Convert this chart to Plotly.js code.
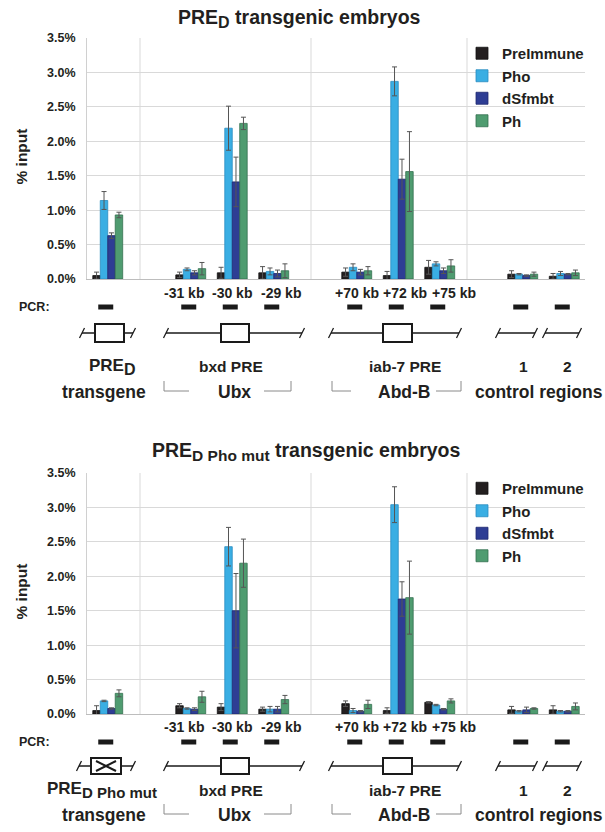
<!DOCTYPE html>
<html>
<head>
<meta charset="utf-8">
<script src="https://cdn.plot.ly/plotly-3.0.1.min.js"></script>
<style>html,body{margin:0;padding:0;background:#fff;}#chart{width:605px;height:832px;}</style>
</head>
<body>
<div id="chart"></div>
<script>
// ---------- DATA ----------
const categories = ["PRE_D", "-31 kb", "-30 kb", "-29 kb", "+70 kb", "+72 kb", "+75 kb", "ctrl 1", "ctrl 2"];
const kbLabels = ["-31 kb", "-30 kb", "-29 kb", "+70 kb", "+72 kb", "+75 kb"];
const seriesNames = ["PreImmune", "Pho", "dSfmbt", "Ph"];
const yTickVals = [0, 0.5, 1.0, 1.5, 2.0, 2.5, 3.0, 3.5];

// Panel 1: PRE_D transgenic embryos (% input)
const preImmune1 = [0.05, 0.06, 0.09, 0.09, 0.10, 0.05, 0.17, 0.07, 0.04];
const preImmuneErr1 = [0.05, 0.04, 0.08, 0.09, 0.06, 0.06, 0.10, 0.05, 0.04];
const pho1 = [1.14, 0.14, 2.19, 0.11, 0.17, 2.87, 0.22, 0.07, 0.08];
const phoErr1 = [0.13, 0.02, 0.32, 0.05, 0.05, 0.21, 0.03, 0.01, 0.03];
const dsfmbt1 = [0.63, 0.09, 1.41, 0.08, 0.10, 1.45, 0.12, 0.05, 0.07];
const dsfmbtErr1 = [0.04, 0.03, 0.36, 0.05, 0.04, 0.29, 0.04, 0.01, 0.01];
const ph1 = [0.93, 0.15, 2.26, 0.12, 0.12, 1.56, 0.19, 0.07, 0.09];
const phErr1 = [0.04, 0.09, 0.09, 0.10, 0.06, 0.58, 0.09, 0.03, 0.04];

// Panel 2: PRE_D Pho mut transgenic embryos (% input)
const preImmune2 = [0.05, 0.12, 0.10, 0.07, 0.15, 0.05, 0.17, 0.06, 0.06];
const preImmuneErr2 = [0.07, 0.03, 0.05, 0.03, 0.04, 0.04, 0.01, 0.05, 0.06];
const pho2 = [0.19, 0.08, 2.43, 0.07, 0.05, 3.04, 0.13, 0.04, 0.04];
const phoErr2 = [0.01, 0.01, 0.28, 0.04, 0.03, 0.26, 0.01, 0.01, 0.01];
const dsfmbt2 = [0.08, 0.07, 1.50, 0.07, 0.04, 1.67, 0.07, 0.06, 0.04];
const dsfmbtErr2 = [0.01, 0.02, 0.54, 0.04, 0.01, 0.25, 0.01, 0.04, 0.01];
const ph2 = [0.30, 0.25, 2.19, 0.21, 0.14, 1.69, 0.19, 0.08, 0.11];
const phErr2 = [0.05, 0.08, 0.35, 0.06, 0.06, 0.53, 0.03, 0.01, 0.05];

// ---------- STYLE / LAYOUT ----------
const W = 605, H = 832;
const px = x => x / W;
const py = y => 1 - y / H;
const FONT = "Liberation Sans, Arial, Helvetica, sans-serif";
const TXT = "#231f20";
const colors = ["#231f20", "#3aaee3", "#2e3d94", "#4f9c70"];
const edges = ["#111111", "#2a8cc0", "#1f2a6e", "#33704f"];

// axis category order including spacer slots between regions
const gapNames = ["gap a", "gap b", "gap c"];
const categoryOrder = [categories[0], gapNames[0], categories[1], categories[2], categories[3], gapNames[1],
  categories[4], categories[5], categories[6], gapNames[2], categories[7], categories[8]];

const plotL = 87, plotR = 585;
const panels = [
  {top: 38, bottom: 279, xa: "x", ya: "y", legend: "legend", vals: [preImmune1, pho1, dsfmbt1, ph1],
   errs: [preImmuneErr1, phoErr1, dsfmbtErr1, phErr1]},
  {top: 473, bottom: 714, xa: "x2", ya: "y2", legend: "legend2", vals: [preImmune2, pho2, dsfmbt2, ph2],
   errs: [preImmuneErr2, phoErr2, dsfmbtErr2, phErr2]}
];

const traces = [];
panels.forEach((p, pi) => {
  seriesNames.forEach((nm, si) => {
    traces.push({
      type: "bar", name: nm, x: categories, y: p.vals[si],
      xaxis: p.xa, yaxis: p.ya, legend: p.legend, showlegend: true,
      marker: {color: colors[si], line: {color: edges[si], width: 0.8}},
      error_y: {type: "data", array: p.errs[si], visible: true, color: "#555555", thickness: 1, width: 2.5},
      hoverinfo: "x+y+name"
    });
  });
});

function xAxis(anchor) {
  return {
    domain: [px(plotL), px(plotR)], anchor: anchor, type: "category",
    categoryorder: "array", categoryarray: categoryOrder, range: [-0.5, 11.5],
    showticklabels: false, ticks: "", showgrid: false, zeroline: false,
    showline: true, linecolor: "#bdbdbd", linewidth: 1,
    fixedrange: true
  };
}
function yAxis(anchor, top, bottom) {
  return {
    domain: [py(bottom), py(top)], anchor: anchor, range: [0, 3.5],
    tickmode: "array", tickvals: yTickVals, ticktext: yTickVals.map(v => v.toFixed(1) + "%"),
    ticks: "", ticklabelstandoff: 8, showgrid: true, gridcolor: "#d9d9d9", gridwidth: 1,
    zeroline: false, showline: true, linecolor: "#d0d0d0", linewidth: 1,
    tickfont: {family: FONT, size: 12.5, color: TXT, weight: "bold"},
    fixedrange: true
  };
}

const shapes = [];
const annotations = [];
function ln(x0, y0, x1, y1, color, width) {
  shapes.push({type: "line", xref: "paper", yref: "paper", x0: px(x0), y0: py(y0), x1: px(x1), y1: py(y1),
    line: {color: color, width: width}});
}
function rect(x0, y0, x1, y1, fill, lineColor, lw) {
  shapes.push({type: "rect", xref: "paper", yref: "paper", x0: px(x0), y0: py(y0), x1: px(x1), y1: py(y1),
    fillcolor: fill, line: {color: lineColor, width: lw}});
}
function txt(x, y, text, size, opts) {
  annotations.push(Object.assign({xref: "paper", yref: "paper", x: px(x), y: py(y), text: text, showarrow: false,
    xanchor: "center", yanchor: "middle", font: {family: FONT, size: size, color: TXT, weight: "bold"}}, opts || {}));
}
const sub = (t, size) => "<sub><span style='font-size:" + size + "px'>" + t + "</span></sub>";

const catW = (plotR - plotL) / categoryOrder.length;
const catCenter = name => plotL + (categoryOrder.indexOf(name) + 0.5) * catW;
const separators = [140, 311, 467];
// hand-placed kb label centres (they are spaced wider than the bars in the original figure)
const kbLabelX = [184, 232, 281, 357, 405, 454];

function brokenLine(x0, x1, y) {
  ln(x0, y, x1, y, "#1a1a1a", 1.5);
  ln(x0 - 2.5, y + 5, x0 + 2.5, y - 5, "#1a1a1a", 1.3);
  ln(x1 - 2.5, y + 5, x1 + 2.5, y - 5, "#1a1a1a", 1.3);
}

const diag = [
  {kbY: 293, pcrY: 307, lineY: 333, boxH: 18, labelY: 367, rowY: 392, pre: [82, 133, 95, 124], mut: false,
   preLabel: "PRE" + sub("D", 16), preLabelX: 112,
   title: "PRE" + sub("D", 16) + " transgenic embryos", titleY: 18, titleX: 299},
  {kbY: 727, pcrY: 742, lineY: 766, boxH: 16, labelY: 790, rowY: 815, pre: [79, 133, 91, 121], mut: true,
   preLabel: "PRE" + sub("D Pho mut", 15), preLabelX: 102,
   title: "PRE" + sub("D Pho mut", 15.5) + " transgenic embryos", titleY: 452, titleX: 306}
];

panels.forEach((p, i) => {
  const d = diag[i];
  // vertical region separators inside the plot
  separators.forEach(sx => ln(sx, p.top, sx, p.bottom, "#d9d9d9", 1));
  // title & y-axis label
  txt(d.titleX, d.titleY, d.title, 19.5);
  txt(21, (p.top + p.bottom) / 2 - 2, "% input", 15.5, {textangle: -90});
  // kb position labels
  kbLabels.forEach((t, k) => txt(kbLabelX[k], d.kbY, t, 14));
  // PCR row
  txt(17, d.pcrY, "PCR:", 12.5, {xanchor: "left"});
  categories.forEach(c => {
    const cx = catCenter(c) - 2;
    rect(cx - 7.5, d.pcrY - 2.5, cx + 7.5, d.pcrY + 2.5, "#1a1a1a", "#1a1a1a", 0);
  });
  // gene maps
  const y = d.lineY, h = d.boxH / 2;
  brokenLine(d.pre[0], d.pre[1], y);
  rect(d.pre[2], y - h, d.pre[3], y + h, "#ffffff", "#1a1a1a", 2);
  if (d.mut) {
    ln(d.pre[2] + 5, y - h + 3, d.pre[3] - 5, y + h - 3, "#1a1a1a", 2);
    ln(d.pre[2] + 5, y + h - 3, d.pre[3] - 5, y - h + 3, "#1a1a1a", 2);
  }
  brokenLine(166, 302, y);
  rect(221, y - h, 249, y + h, "#ffffff", "#1a1a1a", 2);
  brokenLine(331, 459, y);
  rect(383, y - h, 412, y + h, "#ffffff", "#1a1a1a", 2);
  brokenLine(498, 535, y);
  brokenLine(545, 579, y);
  // region labels
  txt(d.preLabelX, d.labelY, d.preLabel, 17);
  txt(231, d.labelY, "bxd PRE", 15.5);
  txt(405, d.labelY, "iab-7 PRE", 15.5);
  txt(523, d.labelY, "1", 15.5);
  txt(567, d.labelY, "2", 15.5);
  // bottom row
  const r = d.rowY;
  txt(104, r, "transgene", 17.5);
  txt(234, r, "Ubx", 17.5);
  txt(404, r, "Abd-B", 17.5);
  txt(539, r, "control regions", 17.5);
  const g = "#8a8a8a";
  ln(164, r - 11, 164, r - 1, g, 1); ln(164, r - 1, 189, r - 1, g, 1);
  ln(264, r - 1, 291, r - 1, g, 1); ln(291, r - 1, 291, r - 11, g, 1);
  ln(332, r - 11, 332, r - 1, g, 1); ln(332, r - 1, 351, r - 1, g, 1);
  ln(436, r - 1, 461, r - 1, g, 1); ln(461, r - 1, 461, r - 11, g, 1);
});

const legendStyle = top => ({
  x: px(462), y: py(top), xanchor: "left", yanchor: "top", bgcolor: "rgba(0,0,0,0)",
  font: {family: FONT, size: 15, color: TXT, weight: "bold"}, tracegroupgap: 0, traceorder: "normal"
});

const layout = {
  width: W, height: H, margin: {l: 0, r: 0, t: 0, b: 0},
  paper_bgcolor: "#ffffff", plot_bgcolor: "#ffffff",
  barmode: "group", bargap: 0.28, bargroupgap: 0,
  showlegend: true,
  legend: legendStyle(37),
  legend2: legendStyle(472),
  xaxis: xAxis("y"), yaxis: yAxis("x", 38, 279),
  xaxis2: xAxis("y2"), yaxis2: yAxis("x2", 473, 714),
  shapes: shapes, annotations: annotations
};

Plotly.newPlot("chart", traces, layout, {displayModeBar: false, staticPlot: true});
</script>
</body>
</html>
